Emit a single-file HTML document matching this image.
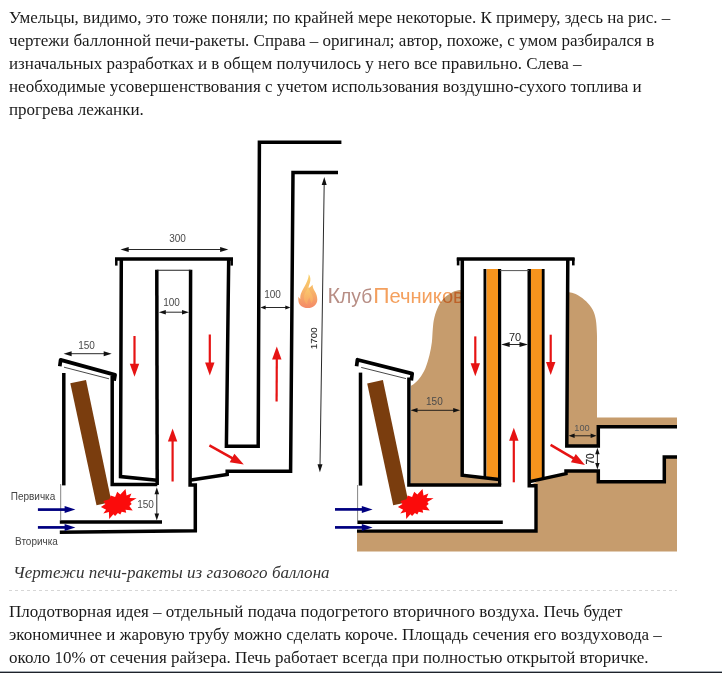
<!DOCTYPE html>
<html lang="ru"><head><meta charset="utf-8"><title>Печь-ракета</title>
<style>
html,body{margin:0;padding:0;background:#fff;}
body{width:722px;height:673px;overflow:hidden;position:relative;font-family:"Liberation Serif",serif;color:#1a1a1a;}
p{margin:0;position:absolute;left:9px;width:705px;font-size:17px;line-height:23px;white-space:nowrap;}
#p1{top:6px;}
#p2{top:600px;}
#fig{position:absolute;left:9px;top:131px;width:668px;height:460px;background:repeating-linear-gradient(90deg,#d6d6d6 0,#d6d6d6 3px,transparent 3px,transparent 6px) left bottom/100% 1px no-repeat;}
#cap{position:absolute;left:4px;top:429.5px;letter-spacing:0.03px;font-style:italic;font-size:17px;line-height:23px;color:#333;white-space:nowrap;}
svg{position:absolute;left:1px;top:0;}
#bot{position:absolute;left:0;top:671px;width:722px;height:2px;background:linear-gradient(#a3aab1 0,#a3aab1 50%,#1e2229 50%,#1e2229 100%);}
</style></head><body>
<p id="p1">Умельцы, видимо, это тоже поняли; по крайней мере некоторые. К примеру, здесь на рис. –<br>чертежи баллонной печи-ракеты. Справа – оригинал; автор, похоже, с умом разбирался в<br>изначальных разработках и в общем получилось у него все правильно. Слева –<br>необходимые усовершенствования с учетом использования воздушно-сухого топлива и<br>прогрева лежанки.</p>
<div id="fig">
<svg id="dr" width="667" height="422" viewBox="10 131 667 422" font-family="Liberation Sans, sans-serif">
<path d="M357,551.4 V531 H409 L409.0,386.5 C409.7,386.2 411.4,385.9 413.2,384.5 C415.0,383.1 417.7,380.7 419.7,378.0 C421.7,375.3 423.8,372.0 425.4,368.2 C427.0,364.4 428.4,359.5 429.5,355.1 C430.6,350.8 431.3,346.5 431.9,342.1 C432.4,337.8 432.4,333.1 432.8,329.0 C433.2,324.9 433.4,321.4 434.4,317.6 C435.3,313.8 436.9,309.4 438.5,306.1 C440.1,302.8 441.9,300.3 444.2,298.0 C446.5,295.7 449.8,293.5 452.4,292.2 C455.0,290.9 457.9,290.5 459.7,290.1 C461.5,289.7 462.4,290.0 463.0,290.0  L567.0,292.0 C567.8,292.1 570.1,292.2 572.0,292.8 C573.9,293.4 576.0,294.0 578.4,295.4 C580.8,296.8 583.7,298.9 586.1,301.3 C588.5,303.7 591.1,306.8 592.7,309.8 C594.3,312.8 595.1,315.6 595.8,319.5 C596.5,323.4 596.7,328.8 596.9,333.0 C597.1,337.2 597.0,343.0 597.0,345.0  V417.5 H677 V551.4 Z" fill="#c69c6d"/>
<path d="M357.4,486 V362 L411,376 V484.7 H535.7 V532 H357.4 Z" fill="#fff"/>
<path d="M462.2,259 H567.5 V446 H598.3 V426.7 H677 V457.1 H664.3 V481.7 H598.3 V470.9 H566.4 V473.8 L545,477 L529,486 H499.2 L497.5,480.3 L486,477.5 L462.2,475 Z" fill="#fff"/>
<path d="M486.5,269 H498.5 V480 L486.5,478 Z" fill="#f7941d"/>
<path d="M530.5,269 H542 V479 L530.5,482 Z" fill="#f7941d"/>
<path d="M341.4,142.2 H259.4 L258.2,446.3 H226.4 L228.7,259" fill="none" stroke="#000" stroke-width="3.5" stroke-linejoin="miter"/>
<path d="M338,172.6 H293 L290.6,471.2 H227.2 V474.4 L191,480" fill="none" stroke="#000" stroke-width="3.5" stroke-linejoin="miter"/>
<path d="M157.2,485 L156.8,269.8" fill="none" stroke="#000" stroke-width="3.5" stroke-linejoin="miter"/>
<path d="M190.6,269.8 L190.1,485 H195.3 V530.8 L59.8,532.3" fill="none" stroke="#000" stroke-width="3.5" stroke-linejoin="miter"/>
<path d="M156.8,270.3 H190.6" fill="none" stroke="#222" stroke-width="1.1" stroke-linejoin="miter"/>
<path d="M115,258.9 H233" fill="none" stroke="#000" stroke-width="3.5" stroke-linejoin="miter"/>
<path d="M116.3,258 V265.6" fill="none" stroke="#000" stroke-width="2.5" stroke-linejoin="miter"/>
<path d="M231.7,258 V265.6" fill="none" stroke="#000" stroke-width="2.5" stroke-linejoin="miter"/>
<path d="M121.3,259 L120.5,476.6 L157,480.3" fill="none" stroke="#000" stroke-width="3.5" stroke-linejoin="miter"/>
<path d="M112.2,376 V484.4 H157.3" fill="none" stroke="#000" stroke-width="3.5" stroke-linejoin="miter"/>
<path d="M63.8,373 V485.4" fill="none" stroke="#000" stroke-width="3.5" stroke-linejoin="miter"/>
<path d="M59.8,366.2 L60.6,359.9 L115.1,374.9 L114.1,380.8" fill="none" stroke="#000" stroke-width="3.7" stroke-linejoin="round"/>
<path d="M59.8,522.1 H162" fill="none" stroke="#000" stroke-width="3.5" stroke-linejoin="miter"/>
<path d="M64,367.2 L109,378.8" fill="none" stroke="#333" stroke-width="0.9" stroke-linejoin="miter"/>
<path d="M60.7,484 V521" fill="none" stroke="#666" stroke-width="0.8" stroke-linejoin="miter"/>
<polygon points="70.3,383.2 86,379.9 111.5,502 96.5,505.3" fill="#7a3d0e"/>
<polygon points="125.5,489.1 126.5,495.5 131.4,493.4 129.6,497.9 136.6,498.2 130.3,502.0 131.7,504.1 129.3,505.9 132.7,510.4 125.5,509.7 126.2,512.8 121.7,511.7 120.3,514.5 117.9,513.1 115.1,515.9 113.4,514.2 109.2,519.0 108.9,512.1 103.3,513.5 106.1,509.7 100.9,506.9 105.4,504.1 103.3,501.0 109.5,499.3 110.6,495.5 115.1,496.9 117.2,491.7 120.3,494.4" fill="#fb0b0b"/>
<line x1="127.1" y1="249.5" x2="221.7" y2="249.5" stroke="#111" stroke-width="0.9"/>
<polygon points="228.3,249.5 220.1,252.0 220.1,247.0" fill="#111"/>
<polygon points="120.5,249.5 128.7,247.0 128.7,252.0" fill="#111"/>
<text x="177.5" y="241.5" font-size="10" fill="#4a4a4a" text-anchor="middle" >300</text>
<line x1="164.4" y1="312.2" x2="183.4" y2="312.2" stroke="#111" stroke-width="0.9"/>
<polygon points="189.0,312.2 182.0,314.5 182.0,309.9" fill="#111"/>
<polygon points="158.8,312.2 165.8,309.9 165.8,314.5" fill="#111"/>
<text x="171.5" y="305.5" font-size="10" fill="#4a4a4a" text-anchor="middle" >100</text>
<line x1="264.6" y1="307.5" x2="286.3" y2="307.5" stroke="#111" stroke-width="0.9"/>
<polygon points="290.5,307.5 285.3,309.6 285.3,305.4" fill="#111"/>
<polygon points="260.4,307.5 265.6,305.4 265.6,309.6" fill="#111"/>
<text x="272.5" y="297.8" font-size="10" fill="#4a4a4a" text-anchor="middle" >100</text>
<line x1="70.0" y1="353.7" x2="105.3" y2="353.7" stroke="#111" stroke-width="0.9"/>
<polygon points="111.7,353.7 103.7,356.2 103.7,351.2" fill="#111"/>
<polygon points="63.6,353.7 71.6,351.2 71.6,356.2" fill="#111"/>
<text x="86.5" y="349" font-size="10" fill="#4a4a4a" text-anchor="middle" >150</text>
<line x1="156.8" y1="492.8" x2="156.8" y2="515.0" stroke="#111" stroke-width="0.9"/>
<polygon points="156.8,520.6 154.5,513.6 159.1,513.6" fill="#111"/>
<polygon points="156.8,487.2 159.1,494.2 154.5,494.2" fill="#111"/>
<text x="145.5" y="507.6" font-size="10" fill="#4a4a4a" text-anchor="middle" >150</text>
<line x1="324.2" y1="183.4" x2="320.0" y2="465.9" stroke="#111" stroke-width="0.9"/>
<polygon points="319.9,472.3 317.5,464.3 322.5,464.3" fill="#111"/>
<polygon points="324.3,177.0 326.7,185.0 321.7,185.0" fill="#111"/>
<text x="317.5" y="338.3" font-size="9.8" fill="#2a2a2a" text-anchor="middle" transform="rotate(-90 317.5 338.3)" stroke="#2a2a2a" stroke-width="0.12">1700</text>
<line x1="134.5" y1="336.0" x2="134.5" y2="366.4" stroke="#e61313" stroke-width="2.2"/>
<polygon points="134.5,376.8 129.8,363.8 139.2,363.8" fill="#e61313"/>
<line x1="209.8" y1="334.5" x2="209.8" y2="365.2" stroke="#e61313" stroke-width="2.2"/>
<polygon points="209.8,375.6 205.1,362.6 214.5,362.6" fill="#e61313"/>
<line x1="172.6" y1="481.5" x2="172.6" y2="438.9" stroke="#e61313" stroke-width="2.2"/>
<polygon points="172.6,428.5 177.3,441.5 167.9,441.5" fill="#e61313"/>
<line x1="276.6" y1="401.5" x2="276.8" y2="356.9" stroke="#e61313" stroke-width="2.2"/>
<polygon points="276.8,346.5 281.5,359.5 272.1,359.5" fill="#e61313"/>
<line x1="209.4" y1="445.4" x2="234.4" y2="459.3" stroke="#e61313" stroke-width="2.5"/>
<polygon points="243.8,464.6 229.7,462.2 234.4,453.8" fill="#e61313"/>
<line x1="37.9" y1="509.6" x2="66.8" y2="509.6" stroke="#000080" stroke-width="2.7"/>
<polygon points="75.4,509.6 64.6,513.1 64.6,506.1" fill="#000080"/>
<line x1="37.9" y1="527.4" x2="66.8" y2="527.4" stroke="#000080" stroke-width="2.7"/>
<polygon points="75.4,527.4 64.6,530.9 64.6,523.9" fill="#000080"/>
<text x="33" y="499.6" font-size="10" fill="#444" text-anchor="middle" >Первичка</text>
<text x="36.5" y="544.5" font-size="10" fill="#444" text-anchor="middle" >Вторичка</text>
<path d="M456.8,259 H574.6" fill="none" stroke="#000" stroke-width="3.6" stroke-linejoin="miter"/>
<path d="M458.1,258 V265.4" fill="none" stroke="#000" stroke-width="2.6" stroke-linejoin="miter"/>
<path d="M573.3,258 V265.4" fill="none" stroke="#000" stroke-width="2.6" stroke-linejoin="miter"/>
<path d="M462.3,259 L462.2,475.2 L499,479.4" fill="none" stroke="#000" stroke-width="3.5" stroke-linejoin="miter"/>
<path d="M567.8,259 L566.8,446 H598.3 V426.7 H677" fill="none" stroke="#000" stroke-width="3.5" stroke-linejoin="miter"/>
<path d="M529.5,481.6 L566,473.6 V470.9 H598.3 V481.7 H664.3 V457.1 H677" fill="none" stroke="#000" stroke-width="3.5" stroke-linejoin="miter"/>
<path d="M484.9,269 V477.5" fill="none" stroke="#000" stroke-width="2.8" stroke-linejoin="miter"/>
<path d="M499.6,269 V485" fill="none" stroke="#000" stroke-width="3.2" stroke-linejoin="miter"/>
<path d="M529.2,269 V485.8 H536 V531 L357,531.1" fill="none" stroke="#000" stroke-width="3.4" stroke-linejoin="miter"/>
<path d="M543.2,269 V478.5" fill="none" stroke="#000" stroke-width="2.8" stroke-linejoin="miter"/>
<path d="M500,270.6 H529" fill="none" stroke="#555" stroke-width="1" stroke-linejoin="miter"/>
<path d="M360.5,372.6 V485.6" fill="none" stroke="#000" stroke-width="3.5" stroke-linejoin="miter"/>
<path d="M408.9,377.4 V485 H501.2" fill="none" stroke="#000" stroke-width="3.5" stroke-linejoin="miter"/>
<path d="M356.6,366.2 L357.4,359.7 L412.2,373.6 L411.3,380.4" fill="none" stroke="#000" stroke-width="3.7" stroke-linejoin="round"/>
<path d="M357.4,522.3 H502.8" fill="none" stroke="#000" stroke-width="3.5" stroke-linejoin="miter"/>
<path d="M361.2,367.4 L406,378.6" fill="none" stroke="#333" stroke-width="0.9" stroke-linejoin="miter"/>
<path d="M357.6,485 V521" fill="none" stroke="#666" stroke-width="0.8" stroke-linejoin="miter"/>
<polygon points="367.2,383.4 382.9,379.9 408.4,502 393.2,505.3" fill="#7a3d0e"/>
<polygon points="422.5,489.1 423.5,495.5 428.4,493.4 426.6,497.9 433.6,498.2 427.3,502.0 428.7,504.1 426.3,505.9 429.7,510.4 422.5,509.7 423.2,512.8 418.7,511.7 417.3,514.5 414.9,513.1 412.1,515.9 410.4,514.2 406.2,519.0 405.9,512.1 400.3,513.5 403.1,509.7 397.9,506.9 402.4,504.1 400.3,501.0 406.5,499.3 407.6,495.5 412.1,496.9 414.2,491.7 417.3,494.4" fill="#fb0b0b"/>
<line x1="416.1" y1="410.3" x2="454.6" y2="410.3" stroke="#111" stroke-width="0.9"/>
<polygon points="460.2,410.3 453.2,412.6 453.2,408.0" fill="#111"/>
<polygon points="410.5,410.3 417.5,408.0 417.5,412.6" fill="#111"/>
<text x="434.4" y="405.4" font-size="10" fill="#4a4a4a" text-anchor="middle" >150</text>
<line x1="508.0" y1="344.5" x2="521.2" y2="344.5" stroke="#111" stroke-width="0.9"/>
<polygon points="528.0,344.5 519.5,346.9 519.5,342.1" fill="#111"/>
<polygon points="501.2,344.5 509.7,342.1 509.7,346.9" fill="#111"/>
<text x="515" y="340.8" font-size="10.5" fill="#222" text-anchor="middle" textLength="12.2" lengthAdjust="spacingAndGlyphs">70</text>
<line x1="573.4" y1="435.8" x2="591.8" y2="435.8" stroke="#111" stroke-width="0.9"/>
<polygon points="596.6,435.8 590.6,438.0 590.6,433.6" fill="#111"/>
<polygon points="568.6,435.8 574.6,433.6 574.6,438.0" fill="#111"/>
<text x="582" y="430.9" font-size="9.2" fill="#555" text-anchor="middle" >100</text>
<line x1="597.4" y1="453.0" x2="597.4" y2="464.2" stroke="#111" stroke-width="0.9"/>
<polygon points="597.4,469.4 595.2,462.9 599.6,462.9" fill="#111"/>
<polygon points="597.4,447.8 599.6,454.3 595.2,454.3" fill="#111"/>
<text x="593.6" y="459" font-size="10" fill="#222" text-anchor="middle" transform="rotate(-90 593.6 459)" stroke="#222" stroke-width="0.2">70</text>
<line x1="475.3" y1="336.4" x2="475.3" y2="365.9" stroke="#e61313" stroke-width="2.2"/>
<polygon points="475.3,376.3 470.6,363.3 480.0,363.3" fill="#e61313"/>
<line x1="550.7" y1="334.7" x2="550.7" y2="364.5" stroke="#e61313" stroke-width="2.2"/>
<polygon points="550.7,374.9 546.0,361.9 555.4,361.9" fill="#e61313"/>
<line x1="513.8" y1="482.3" x2="513.8" y2="438.1" stroke="#e61313" stroke-width="2.2"/>
<polygon points="513.8,427.7 518.5,440.7 509.1,440.7" fill="#e61313"/>
<line x1="550.6" y1="444.9" x2="575.7" y2="459.6" stroke="#e61313" stroke-width="2.5"/>
<polygon points="585.0,465.0 570.9,462.3 575.8,454.0" fill="#e61313"/>
<line x1="335.0" y1="509.4" x2="364.0" y2="509.4" stroke="#000080" stroke-width="2.7"/>
<polygon points="372.6,509.4 361.8,512.9 361.8,505.9" fill="#000080"/>
<line x1="335.0" y1="527.4" x2="364.0" y2="527.4" stroke="#000080" stroke-width="2.7"/>
<polygon points="372.6,527.4 361.8,530.9 361.8,523.9" fill="#000080"/>
<defs><linearGradient id="fg" x1="0" y1="0" x2="0" y2="1"><stop offset="0" stop-color="#f8cf62"/><stop offset="0.45" stop-color="#f7b25c"/><stop offset="1" stop-color="#f3805a"/></linearGradient><linearGradient id="fg2" x1="0" y1="0" x2="0" y2="1"><stop offset="0" stop-color="#fbd873"/><stop offset="1" stop-color="#f9a862"/></linearGradient></defs>
<path d="M308.7,274.2 C310.6,276.5 310.8,279.5 310,282.4 C309.4,284.6 308.3,286 308.6,288.2 C309.8,287.6 311.3,286.2 312.6,284.8 C312.6,287.5 313.6,289.3 314.8,291.2 C316.2,293.4 317.3,296.2 317.3,299.4 C317.3,304.8 313,308 307.8,308 C302.5,308 298.4,304.8 298.4,300.4 C298.3,299 298.3,298 298.2,296.8 C298.9,297.6 299.6,298.4 300.3,298.9 C300.2,296.6 300.4,295.2 301,293.6 C302.2,290.2 304.4,287 306.2,283.2 C307.6,280.2 308.7,277.5 308.7,274.2 Z" fill="url(#fg)" opacity="0.92"/>
<path d="M307.6,284.5 C308.3,289 305.4,291.5 304.2,295.2 C303.2,298.5 304.4,302.5 307.5,304.6 C307,301.8 308,299.6 309.6,297.6 C309.8,299.8 310.8,301.4 311.2,303.4 C313.6,301 313.4,297.2 311.6,294.2 C310.2,291.8 307.9,288.6 307.6,284.5 Z" fill="url(#fg2)" opacity="0.75"/>
<text x="327.4" y="303.4" font-size="20" textLength="44.8" lengthAdjust="spacingAndGlyphs" fill="#b78d84" style="mix-blend-mode:multiply"><tspan font-size="22.5">К</tspan>луб</text>
<text x="373.2" y="303.4" font-size="20" textLength="90.6" lengthAdjust="spacingAndGlyphs" fill="#f4a05e" style="mix-blend-mode:multiply"><tspan font-size="22.5">П</tspan>ечников</text>
</svg>
<div id="cap">Чертежи печи-ракеты из газового баллона</div>
</div>
<p id="p2">Плодотворная идея – отдельный подача подогретого вторичного воздуха. Печь будет<br>экономичнее и жаровую трубу можно сделать короче. Площадь сечения его воздуховода –<br>около 10% от сечения райзера. Печь работает всегда при полностью открытой вторичке.</p>
<div id="bot"></div>
</body></html>
